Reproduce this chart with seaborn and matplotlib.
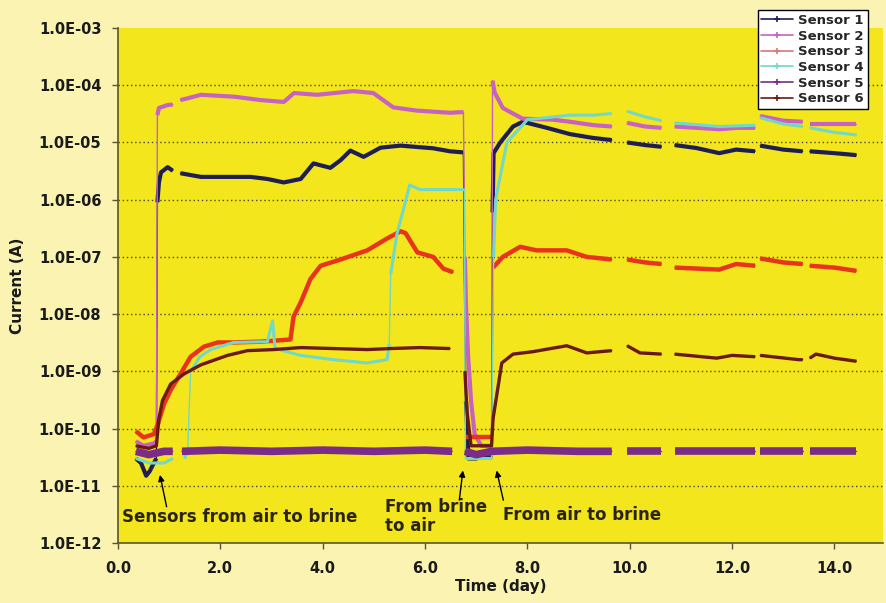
import numpy as np
import pandas as pd
import matplotlib
matplotlib.use("Agg")
import matplotlib.pyplot as plt
from matplotlib.lines import Line2D
from matplotlib.ticker import FixedLocator, FuncFormatter, NullLocator
import seaborn as sns

# sensor readings (nan = gap in the record)
nan = np.nan

s1_day = [0.35, 0.45, 0.55, 0.62, 0.70, 0.75, 0.77, 0.80, 0.84, 0.97, 1.07, nan,
          1.22, 1.62, 2.14, 2.59, 2.92, 3.24, 3.57, 3.82, 4.15, 4.35, 4.54, 4.80, 5.13,
          5.52, 6.16, 6.49, 6.75, 6.78, 6.80, 6.85, 7.00, 7.20, 7.30, 7.32, 7.34,
          7.47, 7.72, 7.91, 8.38, 8.83, 9.28, 9.65, nan, 9.95, 10.30, 10.62, nan,
          10.88, 11.30, 11.75, 12.08, 12.45, nan, 12.55, 13.00, 13.38, nan,
          13.52, 14.00, 14.43]
s1_amp = [3e-11, 2.5e-11, 1.5e-11, 1.8e-11, 2.5e-11, 3e-11, 9e-7, 2e-6, 3e-6, 3.7e-6, 3.2e-6, nan,
          2.9e-6, 2.5e-6, 2.5e-6, 2.5e-6, 2.3e-6, 2.0e-6, 2.3e-6, 4.3e-6, 3.6e-6, 4.9e-6, 7.2e-6, 5.6e-6, 8.1e-6,
          8.8e-6, 7.9e-6, 7.0e-6, 6.7e-6, 1e-8, 3e-10, 3e-11, 3e-11, 3.5e-11, 3e-11, 6e-7, 6.5e-6,
          1e-5, 1.9e-5, 2.3e-5, 1.8e-5, 1.4e-5, 1.2e-5, 1.1e-5, nan, 1e-5, 9e-6, 8.4e-6, nan,
          9e-6, 8e-6, 6.5e-6, 7.5e-6, 7e-6, nan, 8.8e-6, 7.5e-6, 7e-6, nan,
          7e-6, 6.5e-6, 6e-6]

s2_day = [0.35, 0.50, 0.70, 0.75, 0.77, 0.80, 0.97, 1.07, nan, 1.22, 1.36, 1.62, 2.27,
          2.79, 3.24, 3.44, 3.89, 4.60, 4.99, 5.38, 5.84, 6.49, 6.75, 6.78, 6.80, 6.84,
          6.90, 6.97, 7.10, 7.30, 7.32, 7.36, 7.52, 7.72, 7.91, 8.50, 8.83, 9.30, 9.65, nan,
          9.95, 10.30, 10.62, nan, 10.88, 11.30, 11.75, 12.10, 12.45, nan,
          12.55, 13.00, 13.38, nan, 13.52, 14.00, 14.43]
s2_amp = [6e-11, 5e-11, 5.5e-11, 6e-11, 3e-5, 4e-5, 4.5e-5, 4.6e-5, nan, 5.5e-5, 5.9e-5, 6.8e-5, 6.3e-5,
          5.5e-5, 5.1e-5, 7.3e-5, 6.8e-5, 7.9e-5, 7.3e-5, 4.1e-5, 3.6e-5, 3.3e-5, 3.4e-5, 1e-7, 1.5e-8, 2e-9,
          3e-10, 8e-11, 5e-11, 5e-11, 1.2e-4, 7.5e-5, 4e-5, 3.2e-5, 2.6e-5, 2.5e-5, 2.3e-5, 2e-5, 1.9e-5, nan,
          2.2e-5, 1.9e-5, 1.8e-5, nan, 1.9e-5, 1.8e-5, 1.7e-5, 1.8e-5, 1.8e-5, nan,
          2.9e-5, 2.4e-5, 2.3e-5, nan, 2.1e-5, 2.1e-5, 2.1e-5]

s3_day = [0.35, 0.50, 0.70, 0.78, 0.90, 1.03, 1.23, 1.42, 1.68, 1.95, 2.26, 2.79, 3.37,
          3.43, 3.57, 3.76, 3.96, 4.35, 4.87, 5.26, 5.52, 5.62, 5.85, 6.16, 6.36, 6.55, nan,
          6.80, 7.00, 7.30, 7.33, 7.52, 7.86, 8.18, 8.77, 9.16, 9.65, nan, 9.95, 10.30, 10.62, nan,
          10.88, 11.75, 12.08, 12.45, nan, 12.55, 13.00, 13.38, nan, 13.52, 14.00, 14.43]
s3_amp = [9e-11, 7e-11, 8e-11, 1.2e-10, 2.7e-10, 4.7e-10, 9.3e-10, 1.8e-9, 2.7e-9, 3.2e-9, 3.2e-9, 3.3e-9, 3.6e-9,
          9e-9, 1.6e-8, 4.1e-8, 7e-8, 9e-8, 1.3e-7, 2.1e-7, 2.8e-7, 2.6e-7, 1.2e-7, 1e-7, 6.2e-8, 5.4e-8, nan,
          7e-11, 7e-11, 7e-11, 6.5e-8, 1e-7, 1.5e-7, 1.3e-7, 1.3e-7, 1e-7, 9e-8, nan, 9e-8, 8e-8, 7.5e-8, nan,
          6.5e-8, 6e-8, 7.5e-8, 7e-8, nan, 9.4e-8, 8e-8, 7.5e-8, nan, 7e-8, 6.5e-8, 5.7e-8]

s4_day = [0.35, 0.60, 0.90, 1.07, nan, 1.30, 1.36, 1.42, 1.60, 1.81, 2.26, 2.92, 3.02,
          3.07, 3.57, 4.21, 4.87, 5.26, 5.30, 5.33, 5.45, 5.60, 5.70, 5.90, 6.30, 6.77,
          6.79, 7.00, 7.30, 7.34, 7.38, 7.60, 8.00, 8.18, 8.83, 9.30, 9.65, nan,
          9.95, 10.30, 10.62, nan, 10.88, 11.75, 12.45, nan, 12.55, 13.00, 13.38, nan,
          13.52, 14.00, 14.43]
s4_amp = [3e-11, 2.5e-11, 2.5e-11, 3e-11, nan, 3e-11, 4e-11, 1e-9, 1.8e-9, 2.4e-9, 3.2e-9, 3.3e-9, 7.6e-9,
          2.5e-9, 1.9e-9, 1.6e-9, 1.4e-9, 1.6e-9, 3e-9, 5e-8, 2.5e-7, 8e-7, 1.8e-6, 1.5e-6, 1.5e-6, 1.5e-6,
          3e-11, 3e-11, 3e-11, 1e-7, 1e-6, 1e-5, 2.5e-5, 2.6e-5, 3e-5, 3e-5, 3.2e-5, nan,
          3.5e-5, 2.8e-5, 2.4e-5, nan, 2.2e-5, 1.9e-5, 2e-5, nan, 2.7e-5, 2.1e-5, 1.9e-5, nan,
          1.8e-5, 1.5e-5, 1.35e-5]

s5_day = [0.35, 0.60, 0.90, 1.07, nan, 1.25, 2.00, 3.00, 4.00, 5.00, 6.00, 6.53, nan,
          6.78, 7.00, 7.30, 8.00, 9.00, 9.65, nan, 9.95, 10.62, nan, 10.88, 11.80, 12.45, nan,
          12.55, 13.38, nan, 13.52, 14.43]
s5_amp = [4e-11, 3.5e-11, 4e-11, 4e-11, nan, 4e-11, 4.2e-11, 4e-11, 4.2e-11, 4e-11, 4.2e-11, 4e-11, nan,
          4e-11, 3.5e-11, 4e-11, 4.2e-11, 4e-11, 4e-11, nan, 4e-11, 4e-11, nan, 4e-11, 4e-11, 4e-11, nan,
          4e-11, 4e-11, nan, 4e-11, 4e-11]

s6_day = [0.35, 0.60, 0.75, 0.80, 0.87, 1.03, 1.29, 1.62, 2.14, 2.53, 3.04, 3.57, 4.21,
          4.87, 5.32, 5.90, 6.49, nan, 6.78, 6.82, 6.90, 7.30, 7.33, 7.50, 7.72, 8.10, 8.77,
          9.16, 9.65, nan, 9.95, 10.20, 10.62, nan, 10.88, 11.70, 12.00, 12.45, nan,
          12.55, 13.30, 13.38, nan, 13.52, 13.64, 14.00, 14.43]
s6_amp = [5e-11, 4.5e-11, 5e-11, 1.5e-10, 3.1e-10, 6e-10, 9e-10, 1.3e-9, 1.9e-9, 2.3e-9, 2.4e-9, 2.6e-9, 2.5e-9,
          2.4e-9, 2.5e-9, 2.6e-9, 2.5e-9, nan, 1e-9, 2e-10, 5e-11, 5e-11, 1.5e-10, 1.4e-9, 2e-9, 2.2e-9, 2.8e-9,
          2.1e-9, 2.3e-9, nan, 2.8e-9, 2.1e-9, 2e-9, nan, 2e-9, 1.7e-9, 1.9e-9, 1.8e-9, nan,
          1.9e-9, 1.6e-9, 1.6e-9, nan, 1.7e-9, 2e-9, 1.7e-9, 1.5e-9]

sensors = ["Sensor 1", "Sensor 2", "Sensor 3", "Sensor 4", "Sensor 5", "Sensor 6"]
colors = ["#1e1e52", "#c862c2", "#e8341c", "#72d8c8", "#7a2c88", "#6a1a12"]
legend_colors = ["#1e1e52", "#c862c2", "#d87878", "#72d8c8", "#7a2c88", "#6a1a12"]
widths = [3.0, 3.0, 3.2, 2.2, 5.5, 2.4]

all_days = [s1_day, s2_day, s3_day, s4_day, s5_day, s6_day]
all_amps = [s1_amp, s2_amp, s3_amp, s4_amp, s5_amp, s6_amp]

# seg: gaps in the record; thick: also split at steep jumps, which
# the original shows only as thin connecting lines
rows = []
for name, days, amps in zip(sensors, all_days, all_amps):
    seg, thick, prev = 0, 0, None
    for d, a in zip(days, amps):
        if np.isnan(d):
            seg += 1
            thick += 1
            prev = None
            continue
        if prev is not None and abs(np.log10(a / prev)) > 1.2:
            thick += 1
        rows.append((name, seg, thick, d, a))
        prev = a
df = pd.DataFrame(rows, columns=["sensor", "seg", "thick", "day", "amp"])

sns.set_style("ticks")
plt.rcParams["font.family"] = ["DejaVu Sans"]
plt.rcParams["font.weight"] = "bold"

outer = "#faf3b2"
inner = "#f3e61c"
ink = "#1a1a1a"

fig = plt.figure(figsize=(8.87, 6.03), dpi=100, facecolor=outer)
ax = fig.add_axes([118 / 887, 1 - 543 / 603, (883 - 118) / 887, (543 - 28) / 603])
ax.set_facecolor(inner)
ax.set_yscale("log")

for name, c, lw in zip(sensors, colors, widths):
    sub = df[df.sensor == name]
    sns.lineplot(data=sub, x="day", y="amp", units="seg", estimator=None, sort=False,
                 color=c, lw=1.0, ax=ax, legend=False)
    sns.lineplot(data=sub, x="day", y="amp", units="thick", estimator=None, sort=False,
                 color=c, lw=lw, ax=ax, legend=False,
                 solid_capstyle="butt", solid_joinstyle="round")

ax.set_xlim(0, 14.95)
ax.set_ylim(1e-12, 1e-3)

decades = [10.0 ** k for k in range(-12, -2)]
ax.yaxis.set_major_locator(FixedLocator(decades))
ax.yaxis.set_minor_locator(NullLocator())
ax.yaxis.set_major_formatter(FuncFormatter(lambda v, p: "1.0E-%02d" % round(-np.log10(v))))
ax.set_xticks(np.arange(0, 15, 2.0))
ax.xaxis.set_major_formatter(FuncFormatter(lambda v, p: "%.1f" % v))

for v in decades[1:-1]:
    ax.axhline(v, color="#4a4a30", lw=1.0, ls=(0, (1, 2)), zorder=0.5)

for s in ["top", "right"]:
    ax.spines[s].set_visible(False)
for s in ["left", "bottom"]:
    ax.spines[s].set_color("#5a5530")
    ax.spines[s].set_linewidth(1.2)
ax.tick_params(axis="both", colors="#5a5530", labelcolor=ink, labelsize=10.5, length=4, width=1)
ax.tick_params(axis="y", pad=8)
ax.tick_params(axis="x", pad=9)

ax.set_xlabel("Time (day)", fontsize=11, fontweight="bold", color=ink, labelpad=2)
ax.set_ylabel("Current (A)", fontsize=11, fontweight="bold", color=ink, labelpad=10)

arrow = dict(arrowstyle="-|>", color="black", lw=1.0, mutation_scale=9, shrinkA=0, shrinkB=0)
ax.annotate("", xy=(0.82, 1.55e-11), xytext=(0.95, 4.3e-12), arrowprops=arrow)
ax.annotate("", xy=(6.74, 1.85e-11), xytext=(6.67, 5.6e-12), arrowprops=arrow)
ax.annotate("", xy=(7.40, 1.85e-11), xytext=(7.53, 5.6e-12), arrowprops=arrow)
ax.text(0.07, 2.9e-12, "Sensors from air to brine", fontsize=12, fontweight="bold",
        color="#2a2410", va="center", ha="left")
ax.text(5.21, 6.2e-12, "From brine\nto air", fontsize=12, fontweight="bold",
        color="#2a2410", va="top", ha="left", linespacing=1.1)
ax.text(7.52, 3.1e-12, "From air to brine", fontsize=12, fontweight="bold",
        color="#2a2410", va="center", ha="left")

handles = [Line2D([0], [0], color=c, lw=1.2, marker="+", ms=4, mew=1.2) for c in legend_colors]
leg = fig.legend(handles, sensors, loc="upper right", bbox_to_anchor=(868 / 887, 1 - 10 / 603),
                 frameon=True, fancybox=False, edgecolor="black", facecolor="white",
                 framealpha=1, fontsize=9.5, handlelength=2.4, handletextpad=0.4,
                 borderpad=0.3, labelspacing=0.2, borderaxespad=0)
leg.get_frame().set_linewidth(1.0)
for t in leg.get_texts():
    t.set_fontweight("bold")

fig.savefig("out.png", dpi=100, facecolor=outer)
